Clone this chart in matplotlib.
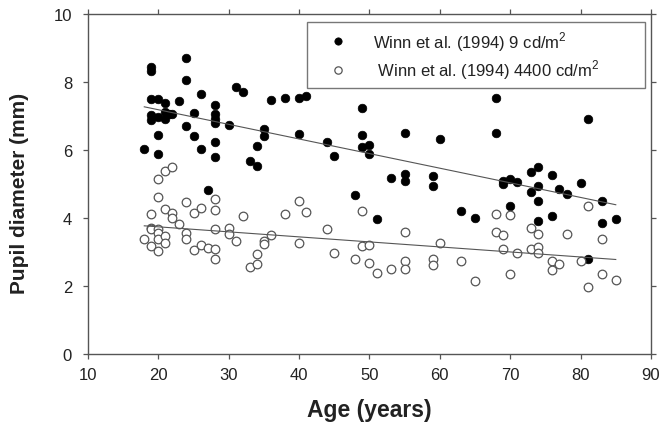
import matplotlib
matplotlib.use("Agg")
from matplotlib import pyplot as plt

plt.rcParams['font.family'] = ['Liberation Sans', 'DejaVu Sans']
plt.rcParams['mathtext.fontset'] = 'custom'
plt.rcParams['mathtext.rm'] = 'Liberation Sans'

# 9 cd/m2 (filled)
age_dark = [18, 19, 19, 19, 19, 19, 20, 20, 20, 20, 21, 21, 21, 21.5, 22, 23, 24, 24, 24,
            25, 25, 26, 26, 27, 28, 28, 28, 28, 28, 28, 30, 31, 32, 33, 34, 34, 35, 35,
            36, 38, 40, 40, 41, 44, 45, 48, 49, 49, 49, 50, 50, 51, 53, 55, 55, 55, 59,
            59, 60, 63, 65, 68, 68, 69, 69, 70, 70, 71, 73, 73, 74, 74, 74, 74, 76, 76,
            77, 78, 80, 81, 81, 83, 83, 85]
pupil_dark = [6.02, 8.45, 8.32, 7.51, 7.02, 6.87, 7.5, 6.45, 5.89, 6.97, 7.37, 7.12, 6.92,
              7.07, 7.07, 7.45, 8.7, 8.06, 6.7, 7.1, 6.42, 7.64, 6.02, 4.83, 7.32, 7.07,
              6.92, 6.8, 6.23, 5.79, 6.73, 7.85, 7.71, 5.69, 6.13, 5.52, 6.63, 6.41, 7.47,
              7.54, 7.54, 6.46, 7.58, 6.23, 5.81, 4.67, 7.24, 6.45, 6.08, 6.16, 5.89, 3.96,
              5.17, 6.51, 5.3, 5.1, 5.23, 4.95, 6.31, 4.21, 4.01, 7.53, 6.51, 5.1, 5.0,
              5.15, 4.34, 5.07, 5.35, 4.75, 5.49, 4.95, 4.51, 3.9, 5.27, 4.06, 4.85, 4.7,
              5.03, 6.92, 2.8, 4.49, 3.84, 3.96]

# 4400 cd/m2 (open)
age_light = [18, 19, 19, 19, 19, 20, 20, 20, 20, 20, 20, 21, 21, 21, 21, 22, 22, 22, 23,
             24, 24, 24, 25, 25, 26, 26, 27, 28, 28, 28, 28, 28, 30, 30, 31, 32, 33, 34,
             34, 35, 35, 36, 38, 40, 40, 41, 44, 45, 48, 49, 49, 50, 50, 51, 53, 55, 55,
             55, 59, 59, 60, 63, 65, 68, 68, 69, 69, 70, 70, 71, 73, 73, 74, 74, 74, 76,
             76, 77, 78, 80, 81, 81, 83, 83, 85]
pupil_light = [3.37, 4.13, 3.72, 3.67, 3.18, 5.15, 4.63, 3.67, 3.57, 3.37, 3.03, 5.37, 4.26,
               3.47, 3.27, 5.49, 4.16, 4.01, 3.82, 4.48, 3.57, 3.39, 4.16, 3.06, 4.28, 3.22,
               3.13, 4.56, 4.23, 3.67, 3.1, 2.78, 3.7, 3.52, 3.32, 4.06, 2.55, 2.93, 2.65,
               3.32, 3.25, 3.51, 4.13, 4.49, 3.27, 4.18, 3.69, 2.98, 2.8, 4.21, 3.18, 3.22,
               2.68, 2.37, 2.5, 3.59, 2.75, 2.5, 2.8, 2.61, 3.27, 2.75, 2.14, 4.13, 3.59,
               3.49, 3.08, 4.08, 2.34, 2.98, 3.72, 3.1, 3.52, 3.16, 2.98, 2.73, 2.47, 2.65,
               3.52, 2.75, 4.36, 1.97, 3.39, 2.34, 2.19]

# regression lines (end points)
fit_x = [18, 85]
fit_dark = [7.27, 4.39]
fit_light = [3.77, 2.78]

fig = plt.figure(figsize=(6.61, 4.27), dpi=100)
ax = fig.add_axes([0.1331, 0.1686, 0.8517, 0.7963])

ax.plot(age_dark, pupil_dark, 'o', ms=6.2, mfc='black', mec='black', mew=0.5,
        label='Winn et al. (1994) 9 cd/m$^2$')
ax.plot(age_light, pupil_light, 'o', ms=6.2, mfc='white', mec='#555555', mew=0.9,
        label=' Winn et al. (1994) 4400 cd/m$^2$')
ax.plot(fit_x, fit_dark, '-', color='#555555', lw=0.8)
ax.plot(fit_x, fit_light, '-', color='#555555', lw=0.8)

ax.set_xlim(10, 90)
ax.set_ylim(0, 10)
ax.set_xticks(range(10, 91, 10))
ax.set_yticks(range(0, 11, 2))

for s in ax.spines.values():
    s.set_color('#555555')
    s.set_linewidth(1.0)

ax.tick_params(axis='both', direction='out', length=3.5, width=0.9,
               colors='#555555', labelcolor='#222222', labelsize=12)
ax.tick_params(top=True, right=True)
ax.tick_params(axis='x', pad=6)
ax.tick_params(axis='y', pad=8)

ax.set_xlabel('Age (years)', fontsize=16.5, fontweight='bold', color='#222222')
ax.set_ylabel('Pupil diameter (mm)', fontsize=15, fontweight='bold', color='#222222')
ax.xaxis.set_label_coords(0.5, -0.13)
ax.yaxis.set_label_coords(-0.105, 0.474)

leg = ax.legend(loc='upper left', bbox_to_anchor=(0.389, 0.785, 0.6, 0.191),
                mode='expand', fontsize=12, markerscale=0.85, frameon=True,
                fancybox=False, borderpad=0.42, handlelength=2.9, handletextpad=0.62,
                labelspacing=0.3, borderaxespad=0, labelcolor='#222222')
leg.get_frame().set_edgecolor('#555555')
leg.get_frame().set_linewidth(1.0)

fig.savefig('out.png', dpi=100)
